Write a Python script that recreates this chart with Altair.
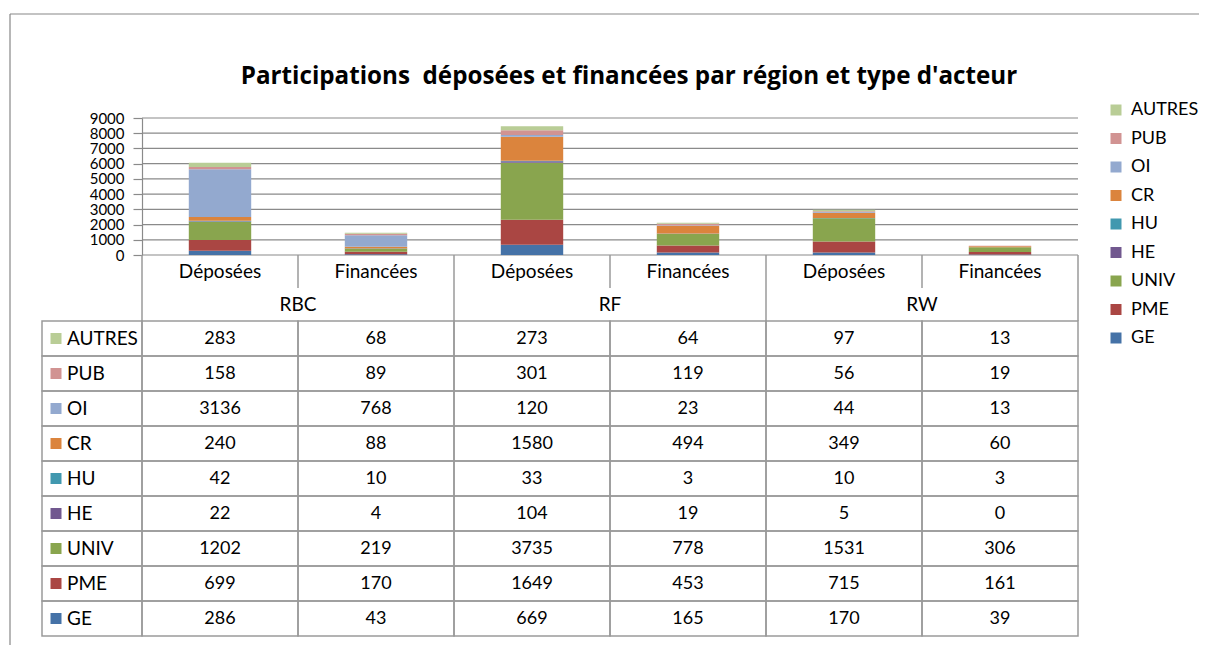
import altair as alt
import pandas as pd

# ---------------- data ----------------
series = ["GE", "PME", "UNIV", "HE", "HU", "CR", "OI", "PUB", "AUTRES"]
regions = ["RBC", "RF", "RW"]
types = ["Déposées", "Financées"]

GE = [286, 43, 669, 165, 170, 39]
PME = [699, 170, 1649, 453, 715, 161]
UNIV = [1202, 219, 3735, 778, 1531, 306]
HE = [22, 4, 104, 19, 5, 0]
HU = [42, 10, 33, 3, 10, 3]
CR = [240, 88, 1580, 494, 349, 60]
OI = [3136, 768, 120, 23, 44, 13]
PUB = [158, 89, 301, 119, 56, 19]
AUTRES = [283, 68, 273, 64, 97, 13]

series_values = [GE, PME, UNIV, HE, HU, CR, OI, PUB, AUTRES]
series_colors = ["#4572A7", "#AA4643", "#89A54E", "#71588F", "#4198AF",
                 "#DB843D", "#93A9CF", "#D19392", "#B9CD96"]
y_ticks = [0, 1000, 2000, 3000, 4000, 5000, 6000, 7000, 8000, 9000]

TITLE = "Participations\u00a0 déposées et financées par région et type d'acteur"
FONT = "Lato"
GRID = "#8a8a8a"
BORDER = "#9a9a9a"

# ---------------- tables built from the arrays ----------------
n_series = len(series)
n_cols = len(regions) * len(types)
records = []
for si, (name, vals) in enumerate(zip(series, series_values)):
    for ci, v in enumerate(vals):
        records.append({
            "series": name,
            "order": si,
            "col": ci,
            "value": v,
            "row": 2 + (n_series - 1 - si),
        })
df = pd.DataFrame(records)

cells = pd.DataFrame([
    {"col": c, "row": 2 + r}
    for r in range(n_series) for c in range(-1, n_cols)
])
labels_df = pd.DataFrame([
    {"series": name, "row": 2 + (n_series - 1 - si)} for si, name in enumerate(series)
])
types_df = pd.DataFrame([
    {"col": c, "label": types[c % len(types)]} for c in range(n_cols)
])
regions_df = pd.DataFrame([
    {"col": ri * len(types), "label": r} for ri, r in enumerate(regions)
])
vlines_df = pd.DataFrame([
    {"b": b, "y_start": 0, "y_end": 2 if b % len(types) == 0 else 1} for b in range(n_cols + 1)
])
ticks_df = pd.DataFrame({"v": y_ticks, "x_start": 0, "x_end": n_cols})

legend_order = list(reversed(series))
legend_colors = list(reversed(series_colors))
color_scale = alt.Scale(domain=legend_order, range=legend_colors)


def xscale():
    return alt.Scale(domain=[-1, 0, n_cols], range=[0, 100, 1036], nice=False, zero=False)


def yaxis():
    return alt.Axis(values=y_ticks, format="d", offset=-100, tickSize=9, labelPadding=9,
                    grid=False, labelOverlap=False, labelFont=FONT,
                    labelFontSize=15, labelColor="#000000", title=None,
                    domainColor=GRID, tickColor=GRID, domainWidth=1.2,
                    tickWidth=1.2, labelFlush=False, labelBound=False)


W = 1036
ybar = alt.Scale(domain=[0, 9000], nice=False, zero=True)

# ---------------- bar chart ----------------
grid = alt.Chart(ticks_df).mark_rule(color=GRID, strokeWidth=1.2).encode(
    y=alt.Y("v:Q", scale=ybar, axis=yaxis()),
    x=alt.X("x_start:Q", scale=xscale(), axis=None),
    x2="x_end:Q",
)

bars = alt.Chart(df).transform_stack(
    stack="value", groupby=["col"], as_=["y0", "y1"],
    sort=[alt.SortField("order", order="ascending")]
).transform_calculate(
    xa="datum.col + 0.3", xb="datum.col + 0.7"
).mark_rect().encode(
    x=alt.X("xa:Q", scale=xscale(), axis=None),
    x2="xb:Q",
    y=alt.Y("y0:Q", scale=ybar, axis=yaxis()),
    y2="y1:Q",
    color=alt.Color("series:N", scale=color_scale, legend=alt.Legend(
        orient="none", legendX=1065, legendY=-17, title=None,
        symbolType="square", symbolSize=121, symbolStrokeWidth=0,
        labelFont=FONT, labelFontSize=18, labelColor="#000000",
        rowPadding=10.5, labelOffset=6, padding=0,
    )),
)

bar_chart = alt.layer(grid, bars).properties(
    width=W, height=137,
    title=alt.TitleParams(TITLE, font="Open Sans", fontSize=24.2, fontWeight="bold",
                          color="#000000", anchor="middle", dx=69, offset=22),
)

# ---------------- data table ----------------
yscale = alt.Scale(domain=[0, 2, 2 + n_series], range=[0, 66, 381], nice=False, zero=False)

cell_rects = alt.Chart(cells).transform_calculate(
    x1="datum.col + 1", y1="datum.row + 1"
).mark_rect(filled=False, color=BORDER, strokeWidth=1.5).encode(
    x=alt.X("col:Q", scale=xscale(), axis=None),
    x2="x1:Q",
    y=alt.Y("row:Q", scale=yscale, axis=None),
    y2="y1:Q",
)

vlines = alt.Chart(vlines_df).mark_rule(color=BORDER, strokeWidth=1.5).encode(
    x=alt.X("b:Q"),
    y=alt.Y("y_start:Q"),
    y2="y_end:Q",
)

values_text = alt.Chart(df).transform_calculate(
    xc="datum.col + 0.5", yc="datum.row + 0.5"
).mark_text(font=FONT, fontSize=18, color="#000000").encode(
    x=alt.X("xc:Q"), y=alt.Y("yc:Q"), text="value:Q",
)

types_text = alt.Chart(types_df).transform_calculate(
    xc="datum.col + 0.5", yc="0.5"
).mark_text(font=FONT, fontSize=19, color="#000000").encode(
    x="xc:Q", y="yc:Q", text="label:N",
)

regions_text = alt.Chart(regions_df).transform_calculate(
    xc="datum.col + 1", yc="1.5"
).mark_text(font=FONT, fontSize=19, color="#000000").encode(
    x="xc:Q", y="yc:Q", text="label:N",
)

names_text = alt.Chart(labels_df).transform_calculate(
    xc="-1", yc="datum.row + 0.5"
).mark_text(font=FONT, fontSize=19, color="#000000", align="left", dx=25).encode(
    x="xc:Q", y="yc:Q", text="series:N",
)

squares = alt.Chart(labels_df).transform_calculate(
    xc="-1", yc="datum.row + 0.5"
).mark_point(shape="square", filled=True, size=121, opacity=1, xOffset=14).encode(
    x="xc:Q", y="yc:Q",
    color=alt.Color("series:N", scale=color_scale, legend=None),
)

frame_top = alt.Chart(ticks_df.head(1)).mark_rule(color="#878787", strokeWidth=1.2).encode(
    x=alt.value(-32), x2=alt.value(1157), y=alt.value(-241),
)
frame_left = alt.Chart(ticks_df.head(1)).mark_rule(color="#878787", strokeWidth=1.2).encode(
    x=alt.value(-32), y=alt.value(-241), y2=alt.value(390),
)

table_chart = alt.layer(
    cell_rects, vlines, values_text, types_text, regions_text, names_text, squares,
    frame_top, frame_left,
).properties(width=W, height=381)

chart = alt.vconcat(bar_chart, table_chart, spacing=0, bounds="flush").properties(
    padding={"left": 1, "top": 5, "right": 0, "bottom": 0},
).configure_view(strokeWidth=0)

chart.save("out.html", embed_options={"renderer": "svg", "actions": False})
